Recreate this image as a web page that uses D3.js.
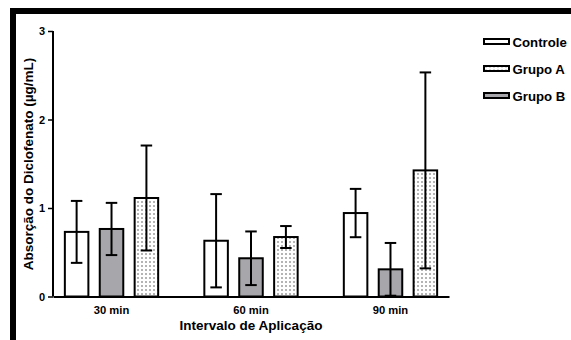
<!DOCTYPE html>
<html>
<head>
<meta charset="utf-8">
<script src="https://cdn.jsdelivr.net/npm/d3@7"></script>
<style>
  body { margin: 0; background: #fff; }
  svg { display: block; font-family: "Liberation Sans", Arial, sans-serif; font-weight: bold; }
</style>
</head>
<body>
<div id="chart"></div>
<script>
// data
const intervals = ['30 min', '60 min', '90 min'];
const barOrder = ['Controle', 'Grupo B', 'Grupo A'];
const legendOrder = ['Controle', 'Grupo A', 'Grupo B'];
const controleMean = [0.73, 0.63, 0.943];
const controleErr = [0.35, 0.527, 0.273];
const grupoAMean = [1.113, 0.672, 1.425];
const grupoAErr = [0.593, 0.124, 1.107];
const grupoBMean = [0.763, 0.432, 0.307];
const grupoBErr = [0.295, 0.303, 0.298];
const yTicks = [0, 1, 2, 3];

const series = {
  'Controle': {mean: controleMean, err: controleErr, fill: '#ffffff'},
  'Grupo A': {mean: grupoAMean, err: grupoAErr, fill: 'url(#dots)'},
  'Grupo B': {mean: grupoBMean, err: grupoBErr, fill: '#a7a7ab'}
};

const W = 571, H = 340;
const margin = {left: 53, right: 122, top: 31, bottom: 43.5};

const svg = d3.select('#chart').append('svg')
  .attr('width', W).attr('height', H);

const defs = svg.append('defs');
const pat = defs.append('pattern')
  .attr('id', 'dots').attr('patternUnits', 'userSpaceOnUse')
  .attr('width', 4).attr('height', 4);
pat.append('rect').attr('width', 4).attr('height', 4).attr('fill', '#fff');
pat.append('rect').attr('x', 1).attr('y', 1).attr('width', 2).attr('height', 2).attr('fill', '#b4b4b4');

// black frame (top + left)
svg.append('rect').attr('x', 10).attr('y', 8).attr('width', W - 10).attr('height', 6).attr('fill', '#000');
svg.append('rect').attr('x', 10).attr('y', 8).attr('width', 6).attr('height', H - 8).attr('fill', '#000');

const x0 = d3.scaleBand()
  .domain(intervals)
  .range([margin.left, W - margin.right])
  .paddingInner(0.331)
  .paddingOuter(0.085);

const x1 = d3.scaleBand()
  .domain(barOrder)
  .range([0, x0.bandwidth()])
  .paddingInner(0.326)
  .paddingOuter(0);

const y = d3.scaleLinear()
  .domain([0, 3])
  .range([H - margin.bottom, margin.top]);

const rows = [];
intervals.forEach((iv, i) => {
  barOrder.forEach(s => {
    rows.push({iv, s, mean: series[s].mean[i], err: series[s].err[i]});
  });
});

const g = svg.append('g');

// bars
g.selectAll('rect.bar')
  .data(rows)
  .enter()
  .append('rect')
  .attr('class', 'bar')
  .attr('x', d => x0(d.iv) + x1(d.s))
  .attr('width', x1.bandwidth())
  .attr('y', d => y(d.mean))
  .attr('height', d => y(0) - y(d.mean))
  .attr('fill', d => series[d.s].fill)
  .attr('stroke', '#000')
  .attr('stroke-width', 2);

// error bars
const capW = 11.5;
const eb = g.selectAll('g.err')
  .data(rows)
  .enter()
  .append('g')
  .attr('class', 'err')
  .attr('stroke', '#000')
  .attr('stroke-width', 2);
const cx = d => x0(d.iv) + x1(d.s) + x1.bandwidth() / 2;
eb.append('line')
  .attr('x1', cx).attr('x2', cx)
  .attr('y1', d => y(d.mean + d.err))
  .attr('y2', d => y(Math.max(0, d.mean - d.err)));
eb.append('line')
  .attr('x1', d => cx(d) - capW / 2).attr('x2', d => cx(d) + capW / 2)
  .attr('y1', d => y(d.mean + d.err)).attr('y2', d => y(d.mean + d.err));
eb.append('line')
  .attr('x1', d => cx(d) - capW / 2).attr('x2', d => cx(d) + capW / 2)
  .attr('y1', d => y(Math.max(0, d.mean - d.err))).attr('y2', d => y(Math.max(0, d.mean - d.err)));

// y axis
const yAxis = d3.axisLeft(y).tickValues(yTicks).tickFormat(d3.format('d')).tickSize(5).tickPadding(3);
const ya = svg.append('g')
  .attr('transform', `translate(${margin.left},0)`)
  .call(yAxis);
ya.select('.domain').attr('stroke-width', 2).attr('d', `M0,${y(0)}V${y(3)}`);
ya.selectAll('.tick line').attr('stroke-width', 1.5);
ya.selectAll('text').attr('font-size', 11).attr('font-weight', 'bold').attr('font-family', 'Liberation Sans, Arial, sans-serif').attr('fill', '#000');

// x axis
const xAxis = d3.axisBottom(x0).tickSize(0).tickPadding(10);
const xa = svg.append('g')
  .attr('transform', `translate(0,${y(0)})`)
  .call(xAxis);
xa.select('.domain').attr('stroke-width', 2);
xa.selectAll('text')
  .attr('dx', d => x1(barOrder[1]) + x1.bandwidth() / 2 - x0.bandwidth() / 2)
  .attr('font-size', 11.2).attr('font-weight', 'bold')
  .attr('font-family', 'Liberation Sans, Arial, sans-serif').attr('fill', '#000');

// axis titles
svg.append('text')
  .attr('x', 251).attr('y', 330)
  .attr('text-anchor', 'middle')
  .attr('font-size', 13.5)
  .text('Intervalo de Aplicação');

svg.append('text')
  .attr('transform', `translate(33,${(53 + 275) / 2}) rotate(-90)`)
  .attr('text-anchor', 'middle')
  .attr('font-size', 13.5)
  .text('Absorção do Diclofenato (µg/mL)');

// legend
const lg = svg.append('g').attr('transform', 'translate(484,0)');
const li = lg.selectAll('g')
  .data(legendOrder)
  .enter()
  .append('g')
  .attr('transform', (d, i) => `translate(0,${41.5 + i * 27})`);
li.append('rect')
  .attr('x', 0).attr('y', -2.5).attr('width', 25).attr('height', 5)
  .attr('fill', d => series[d].fill)
  .attr('stroke', '#000').attr('stroke-width', 2);
li.append('text')
  .attr('x', 28.5).attr('y', 5)
  .attr('font-size', 13.2)
  .text(d => d);
</script>
</body>
</html>
